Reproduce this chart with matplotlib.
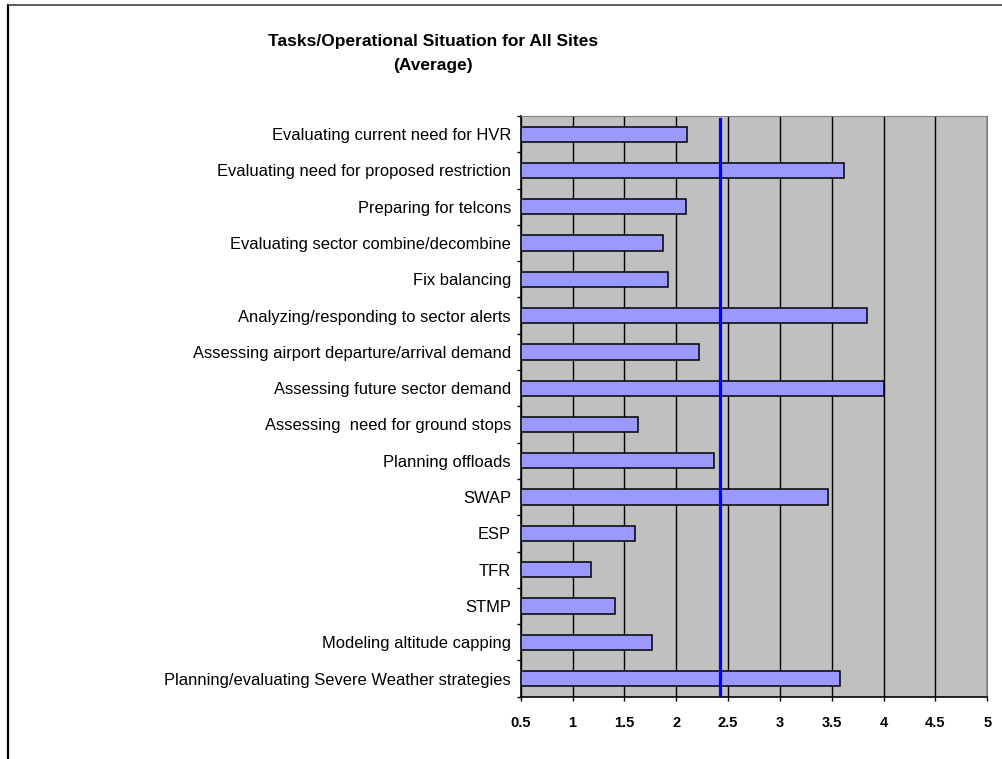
import matplotlib
matplotlib.use("Agg")
from matplotlib import pyplot as plt
import numpy as np

tasks = [
    "Evaluating current need for HVR",
    "Evaluating need for proposed restriction",
    "Preparing for telcons",
    "Evaluating sector combine/decombine",
    "Fix balancing",
    "Analyzing/responding to sector alerts",
    "Assessing airport departure/arrival demand",
    "Assessing future sector demand",
    "Assessing  need for ground stops",
    "Planning offloads",
    "SWAP",
    "ESP",
    "TFR",
    "STMP",
    "Modeling altitude capping",
    "Planning/evaluating Severe Weather strategies",
]
averages = [2.10, 3.62, 2.09, 1.87, 1.92, 3.84, 2.22, 4.00,
            1.63, 2.36, 3.46, 1.60, 1.18, 1.41, 1.77, 3.58]
overall_avg = 2.42
x_ticks = [0.5, 1, 1.5, 2, 2.5, 3, 3.5, 4, 4.5, 5]
x_min, x_max = 0.5, 5

plt.rcParams['font.family'] = ['Liberation Sans', 'DejaVu Sans']

fig = plt.figure(figsize=(10.03, 7.59), dpi=100)
ax = fig.add_axes([0.5191, 0.0821, 0.4652, 0.7651])
ax.set_facecolor('#C0C0C0')

y = np.arange(len(tasks))
widths = [v - x_min for v in averages]
ax.barh(y, widths, left=x_min, height=0.42, color='#9999FF',
        edgecolor='black', linewidth=1.1, zorder=3)
ax.axvline(overall_avg, ymin=0, ymax=0.995, color='#0000FF', linewidth=2.3, zorder=4)

ax.set_xlim(x_min, x_max)
ax.set_ylim(len(tasks) - 0.5, -0.5)
ax.set_xticks(x_ticks)
ax.set_xticklabels([f"{t:g}" for t in x_ticks], fontweight='bold', fontsize=10.5)
ax.xaxis.grid(True, color='black', linewidth=1.0, zorder=1)
ax.set_axisbelow(True)

ax.set_yticks(y)
ax.set_yticklabels(tasks, fontsize=11.9)
ax.set_yticks(np.arange(len(tasks) + 1) - 0.5, minor=True)
ax.tick_params(axis='y', which='major', length=0, pad=7)
ax.tick_params(axis='y', which='minor', length=3, width=1, color='black')
ax.tick_params(axis='x', length=3, width=1, pad=11)

for side in ['top', 'right']:
    ax.spines[side].set_color('#808080')
for side in ['left', 'bottom']:
    ax.spines[side].set_color('black')
    ax.spines[side].set_linewidth(1.2)

fig.text(0.432, 0.929, "Tasks/Operational Situation for All Sites\n(Average)",
         ha='center', va='center', fontsize=12.5, fontweight='bold', linespacing=1.75)

# chart border (left and top edges)
fig.add_artist(plt.Line2D([0.0075, 0.0075], [0, 0.9935], color='black', linewidth=1.6,
                          transform=fig.transFigure))
fig.add_artist(plt.Line2D([0.0075, 1.0], [0.9935, 0.9935], color='#404040', linewidth=1.2,
                          transform=fig.transFigure))

fig.savefig("out.png", dpi=100)
